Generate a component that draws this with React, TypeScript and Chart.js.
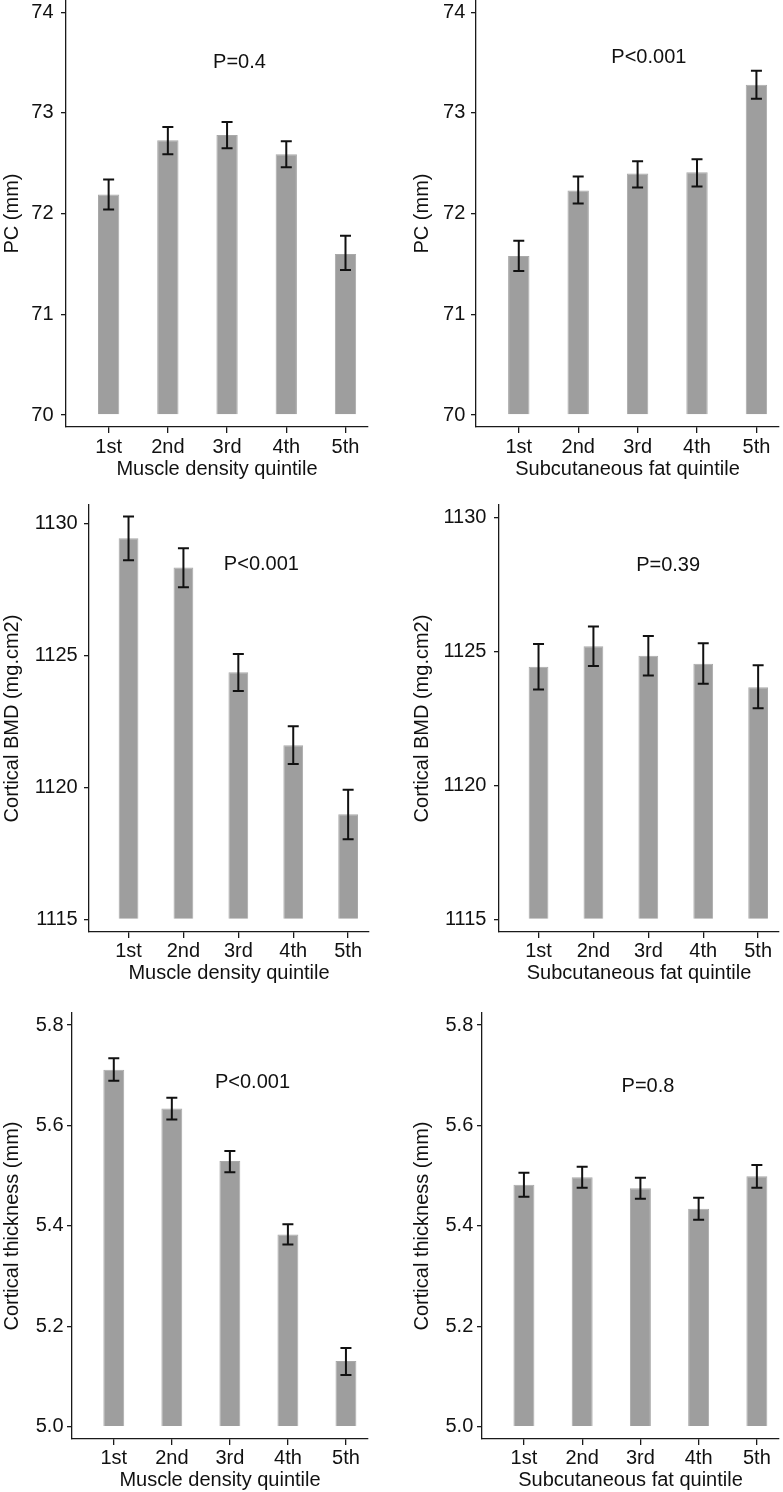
import React, { useEffect, useRef } from 'react';
import { Chart, registerables } from 'chart.js';

Chart.register(...registerables);

const FONT = '"Liberation Sans", Arial, Helvetica, sans-serif';
const FONT_SIZE = 20;

// ---------- data ----------
const quintileLabels = ['1st', '2nd', '3rd', '4th', '5th'];
const quintilePositions = [1, 2, 3, 4, 5];

const pcTicks = [70, 71, 72, 73, 74];
const bmdTicks = [1115, 1120, 1125, 1130];
const thickTicks = [5.0, 5.2, 5.4, 5.6, 5.8];

// PC by muscle density quintile
const pcMuscle = [72.19, 72.73, 72.78, 72.59, 71.6];
const pcMuscleLo = [72.04, 72.59, 72.65, 72.46, 71.44];
const pcMuscleHi = [72.34, 72.86, 72.91, 72.72, 71.78];

// PC by subcutaneous fat quintile
const pcFat = [71.58, 72.23, 72.4, 72.41, 73.28];
const pcFatLo = [71.43, 72.1, 72.26, 72.27, 73.14];
const pcFatHi = [71.73, 72.37, 72.52, 72.54, 73.42];

// Cortical BMD by muscle density quintile
const bmdMuscle = [1129.43, 1128.32, 1124.36, 1121.59, 1118.98];
const bmdMuscleLo = [1128.6, 1127.58, 1123.65, 1120.88, 1118.03];
const bmdMuscleHi = [1130.25, 1129.05, 1125.05, 1122.31, 1119.91];

// Cortical BMD by subcutaneous fat quintile
const bmdFat = [1124.43, 1125.19, 1124.84, 1124.54, 1123.66];
const bmdFatLo = [1123.58, 1124.45, 1124.1, 1123.79, 1122.88];
const bmdFatHi = [1125.27, 1125.93, 1125.57, 1125.3, 1124.48];

// Cortical thickness by muscle density quintile
const thickMuscle = [5.711, 5.634, 5.529, 5.383, 5.131];
const thickMuscleLo = [5.689, 5.612, 5.507, 5.363, 5.103];
const thickMuscleHi = [5.734, 5.655, 5.549, 5.403, 5.157];

// Cortical thickness by subcutaneous fat quintile
const thickFat = [5.482, 5.497, 5.475, 5.434, 5.499];
const thickFatLo = [5.458, 5.476, 5.454, 5.412, 5.476];
const thickFatHi = [5.506, 5.518, 5.496, 5.456, 5.521];

const pValues = ['P=0.4', 'P<0.001', 'P<0.001', 'P=0.39', 'P<0.001', 'P=0.8'];

// ---------- panel definitions ----------
type PanelDef = {
  values: number[];
  lo: number[];
  hi: number[];
  ticks: number[];
  decimals: number;
  base: number;
  yMin: number;
  yMax: number;
  yTitle: string;
  xTitle: string;
  pText: string;
  pAt: [number, number];
};

const panels: PanelDef[] = [
  { values: pcMuscle, lo: pcMuscleLo, hi: pcMuscleHi, ticks: pcTicks, decimals: 0, base: 70, yMin: 69.881, yMax: 74.122, yTitle: 'PC (mm)', xTitle: 'Muscle density quintile', pText: pValues[0], pAt: [3.21, 73.5] },
  { values: pcFat, lo: pcFatLo, hi: pcFatHi, ticks: pcTicks, decimals: 0, base: 70, yMin: 69.881, yMax: 74.122, yTitle: 'PC (mm)', xTitle: 'Subcutaneous fat quintile', pText: pValues[1], pAt: [3.19, 73.555] },
  { values: bmdMuscle, lo: bmdMuscleLo, hi: bmdMuscleHi, ticks: bmdTicks, decimals: 0, base: 1115, yMin: 1114.52, yMax: 1130.69, yTitle: 'Cortical BMD (mg.cm2)', xTitle: 'Muscle density quintile', pText: pValues[2], pAt: [3.42, 1128.42] },
  { values: bmdFat, lo: bmdFatLo, hi: bmdFatHi, ticks: bmdTicks, decimals: 0, base: 1115, yMin: 1114.53, yMax: 1130.46, yTitle: 'Cortical BMD (mg.cm2)', xTitle: 'Subcutaneous fat quintile', pText: pValues[3], pAt: [3.36, 1128.22] },
  { values: thickMuscle, lo: thickMuscleLo, hi: thickMuscleHi, ticks: thickTicks, decimals: 1, base: 5.0, yMin: 4.9755, yMax: 5.824, yTitle: 'Cortical thickness (mm)', xTitle: 'Muscle density quintile', pText: pValues[4], pAt: [3.39, 5.685] },
  { values: thickFat, lo: thickFatLo, hi: thickFatHi, ticks: thickTicks, decimals: 1, base: 5.0, yMin: 4.9755, yMax: 5.824, yTitle: 'Cortical thickness (mm)', xTitle: 'Subcutaneous fat quintile', pText: pValues[5], pAt: [3.13, 5.677] },
];

// layout (positions / sizes) kept separately
const panelLayouts = [
  { left: 0, top: -20, width: 390, height: 501, yAxisWidth: 66, xAxisHeight: 54, padTop: 20, padRight: 22, yTickPad: 7.5, xTickPad: 2 },
  { left: 410, top: -20, width: 373, height: 501, yAxisWidth: 66, xAxisHeight: 54, padTop: 20, padRight: 4, yTickPad: 5.7, xTickPad: 2 },
  { left: 0, top: 485, width: 390, height: 500, yAxisWidth: 89, xAxisHeight: 53, padTop: 20, padRight: 21, yTickPad: 6.3, xTickPad: 1 },
  { left: 410, top: 485, width: 373, height: 500, yAxisWidth: 89, xAxisHeight: 53, padTop: 20, padRight: 4, yTickPad: 7.6, xTickPad: 1 },
  { left: 0, top: 993, width: 390, height: 499, yAxisWidth: 72, xAxisHeight: 53, padTop: 20, padRight: 22, yTickPad: 3.5, xTickPad: 1 },
  { left: 410, top: 993, width: 373, height: 499, yAxisWidth: 72, xAxisHeight: 53, padTop: 20, padRight: 4, yTickPad: 3.7, xTickPad: 1 },
];

const X_MIN = 0.28;
const X_MAX = 5.38;

const TEXT = '#111111';
const AXIS = '#1a1a1a';

const errorBarPlugin = {
  id: 'errorBars',
  afterDatasetsDraw(chart: any, _args: any, opts: any) {
    const { ctx } = chart;
    const xs = chart.scales.x;
    const ys = chart.scales.y;
    ctx.save();
    ctx.strokeStyle = '#111111';
    ctx.lineWidth = 2;
    const cap = 5.5;
    opts.positions.forEach((p: number, i: number) => {
      const x = xs.getPixelForValue(p);
      const y1 = ys.getPixelForValue(opts.lo[i]);
      const y2 = ys.getPixelForValue(opts.hi[i]);
      ctx.beginPath();
      ctx.moveTo(x, y1);
      ctx.lineTo(x, y2);
      ctx.moveTo(x - cap, y1);
      ctx.lineTo(x + cap, y1);
      ctx.moveTo(x - cap, y2);
      ctx.lineTo(x + cap, y2);
      ctx.stroke();
    });
    ctx.restore();
  },
};

const pLabelPlugin = {
  id: 'pLabel',
  afterDraw(chart: any, _args: any, opts: any) {
    const { ctx } = chart;
    const x = chart.scales.x.getPixelForValue(opts.at[0]);
    const y = chart.scales.y.getPixelForValue(opts.at[1]);
    ctx.save();
    ctx.fillStyle = TEXT;
    ctx.font = `${FONT_SIZE}px ${FONT}`;
    ctx.textAlign = 'center';
    ctx.textBaseline = 'middle';
    ctx.fillText(opts.text, x, y);
    ctx.restore();
  },
};

function Panel({ def, layout }: { def: PanelDef; layout: typeof panelLayouts[number] }) {
  const ref = useRef<HTMLCanvasElement | null>(null);

  useEffect(() => {
    if (!ref.current) return;
    const font = { family: FONT, size: FONT_SIZE };
    const chart = new Chart(ref.current, {
      type: 'bar',
      data: {
        datasets: [
          {
            data: quintilePositions.map((x, i) => ({ x, y: def.values[i] })),
            base: def.base,
            backgroundColor: '#9e9e9e',
            borderColor: '#a9a9a9',
            borderWidth: 1,
            barPercentage: 0.36,
            categoryPercentage: 1,
          } as any,
        ],
      },
      options: {
        responsive: false,
        animation: false,
        devicePixelRatio: 1,
        layout: { padding: { top: layout.padTop, right: layout.padRight, left: 0, bottom: 0 } },
        plugins: {
          legend: { display: false },
          tooltip: { enabled: false },
          errorBars: { positions: quintilePositions, lo: def.lo, hi: def.hi },
          pLabel: { text: def.pText, at: def.pAt },
        } as any,
        scales: {
          x: {
            type: 'linear',
            min: X_MIN,
            max: X_MAX,
            offset: false,
            afterBuildTicks: (s: any) => {
              s.ticks = quintilePositions.map((v) => ({ value: v }));
            },
            afterFit: (s: any) => {
              s.height = layout.xAxisHeight;
            },
            ticks: {
              callback: (v: any) => {
                const i = quintilePositions.indexOf(Number(v));
                return i >= 0 ? quintileLabels[i] : '';
              },
              autoSkip: false,
              maxRotation: 0,
              minRotation: 0,
              padding: layout.xTickPad,
              color: TEXT,
              font,
            },
            grid: {
              display: true,
              drawOnChartArea: false,
              drawTicks: true,
              tickLength: 6,
              color: AXIS,
              lineWidth: 1.3,
              offset: false,
            },
            border: { display: true, color: AXIS, width: 1.3 },
            title: { display: true, text: def.xTitle, color: TEXT, font, padding: { top: 0, bottom: 0 } },
          } as any,
          y: {
            type: 'linear',
            min: def.yMin,
            max: def.yMax,
            beginAtZero: false,
            afterBuildTicks: (s: any) => {
              s.ticks = def.ticks.map((v) => ({ value: v }));
            },
            afterFit: (s: any) => {
              s.width = layout.yAxisWidth;
            },
            ticks: {
              callback: (v: any) => Number(v).toFixed(def.decimals),
              padding: layout.yTickPad,
              color: TEXT,
              font,
            },
            grid: {
              display: true,
              drawOnChartArea: false,
              drawTicks: true,
              tickLength: 5,
              color: AXIS,
              lineWidth: 1.3,
            },
            border: { display: true, color: AXIS, width: 1.3 },
            title: { display: true, text: def.yTitle, color: TEXT, font, padding: { top: 0, bottom: 0 } },
          } as any,
        },
      },
      plugins: [errorBarPlugin, pLabelPlugin],
    });
    return () => chart.destroy();
  }, [def, layout]);

  return (
    <canvas
      ref={ref}
      width={layout.width}
      height={layout.height}
      style={{
        position: 'absolute',
        left: layout.left,
        top: layout.top,
        width: layout.width,
        height: layout.height,
        display: 'block',
      }}
    />
  );
}

export default function App() {
  return (
    <div
      style={{
        position: 'absolute',
        left: 0,
        top: 0,
        width: 783,
        height: 1492,
        background: '#ffffff',
        overflow: 'hidden',
      }}
    >
      {panels.map((def, i) => (
        <Panel key={i} def={def} layout={panelLayouts[i]} />
      ))}
    </div>
  );
}
